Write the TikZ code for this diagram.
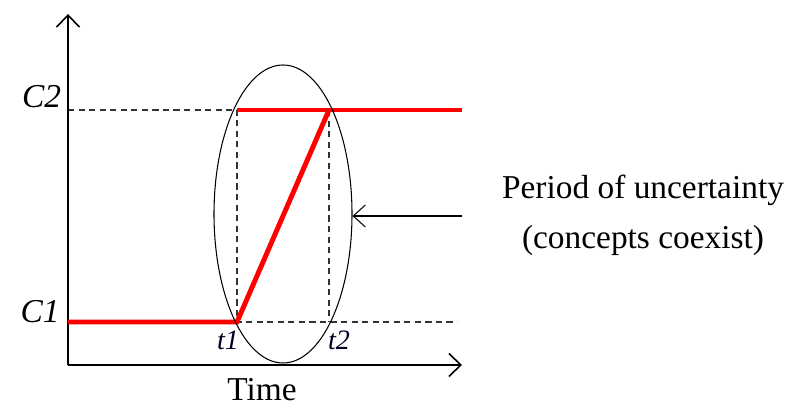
\documentclass[tikz,border=0pt]{standalone}
\usepackage{fontspec}
\setmainfont{Liberation Serif}
\usetikzlibrary{arrows.meta,shapes.geometric}
\tikzset{
    axis/.style={line width=0.9pt, -{Straight Barb[length=2.4mm,width=4.6mm]}},
    guide/.style={dash pattern=on 3.5pt off 2.5pt, line width=0.6pt, black!80},
    level/.style={line width=2.8pt, red},
    lbl/.style={font=\fontsize{19}{23}\selectfont\itshape},
    tick/.style={font=\fontsize{16}{18}\selectfont\itshape, text=black!85!blue},
}
\begin{document}
\begin{tikzpicture}
    \useasboundingbox (-1.36,-0.88) rectangle (14.52,7.3);
    % points on the curve
    \coordinate (origin) at (0,0);
    \coordinate (ytop) at (0,7.02);
    \coordinate (xend) at (7.88,0);
    \coordinate (c1start) at (0,0.86);
    \coordinate (c1end) at (7.78,0.86);
    \coordinate (c2start) at (0,5.1);
    \coordinate (c2end) at (7.88,5.1);
    \coordinate (t1pt) at (3.38,0.86);
    \coordinate (t1top) at (3.38,5.1);
    \coordinate (t2pt) at (5.22,5.1);
    \coordinate (t2bot) at (5.22,0.86);
    % dashed guides
    \draw[guide] (c2start) -- (t1top) -- (t1pt) -- (c1end);
    \draw[guide] (t2pt) -- (t2bot);
    % axes
    \draw[axis] (origin) -- (ytop);
    \draw[axis] (origin) -- (xend);
    % concept change
    \draw[level] (c1start) -- (t1pt) -- (t2pt);
    \draw[level] (t1top) -- (c2end);
    % uncertainty region
    \node[draw, ellipse, line width=0.6pt, minimum width=2.76cm, minimum height=5.96cm, inner sep=0pt] (period) at (4.3,3.02) {};
    \coordinate (arrowstart) at (7.88,2.98);
    \draw[line width=0.6pt, -{Straight Barb[length=2.4mm,width=4.4mm]}] (arrowstart) -- (arrowstart -| period.east);
    \node[font=\fontsize{19}{28.5}\selectfont, align=center] (note) at (11.5,3.0) {Period of uncertainty\\(concepts coexist)};
    % labels
    \node[lbl] (c2lbl) at (-0.53,5.36) {C2};
    \node[lbl] (c1lbl) at (-0.56,1.06) {C1};
    \node[tick] (t1lbl) at (3.2,0.5) {t1};
    \node[tick] (t2lbl) at (5.42,0.5) {t2};
    \node[font=\fontsize{19}{23}\selectfont] (timelbl) at (3.88,-0.5) {Time};
\end{tikzpicture}
\end{document}
